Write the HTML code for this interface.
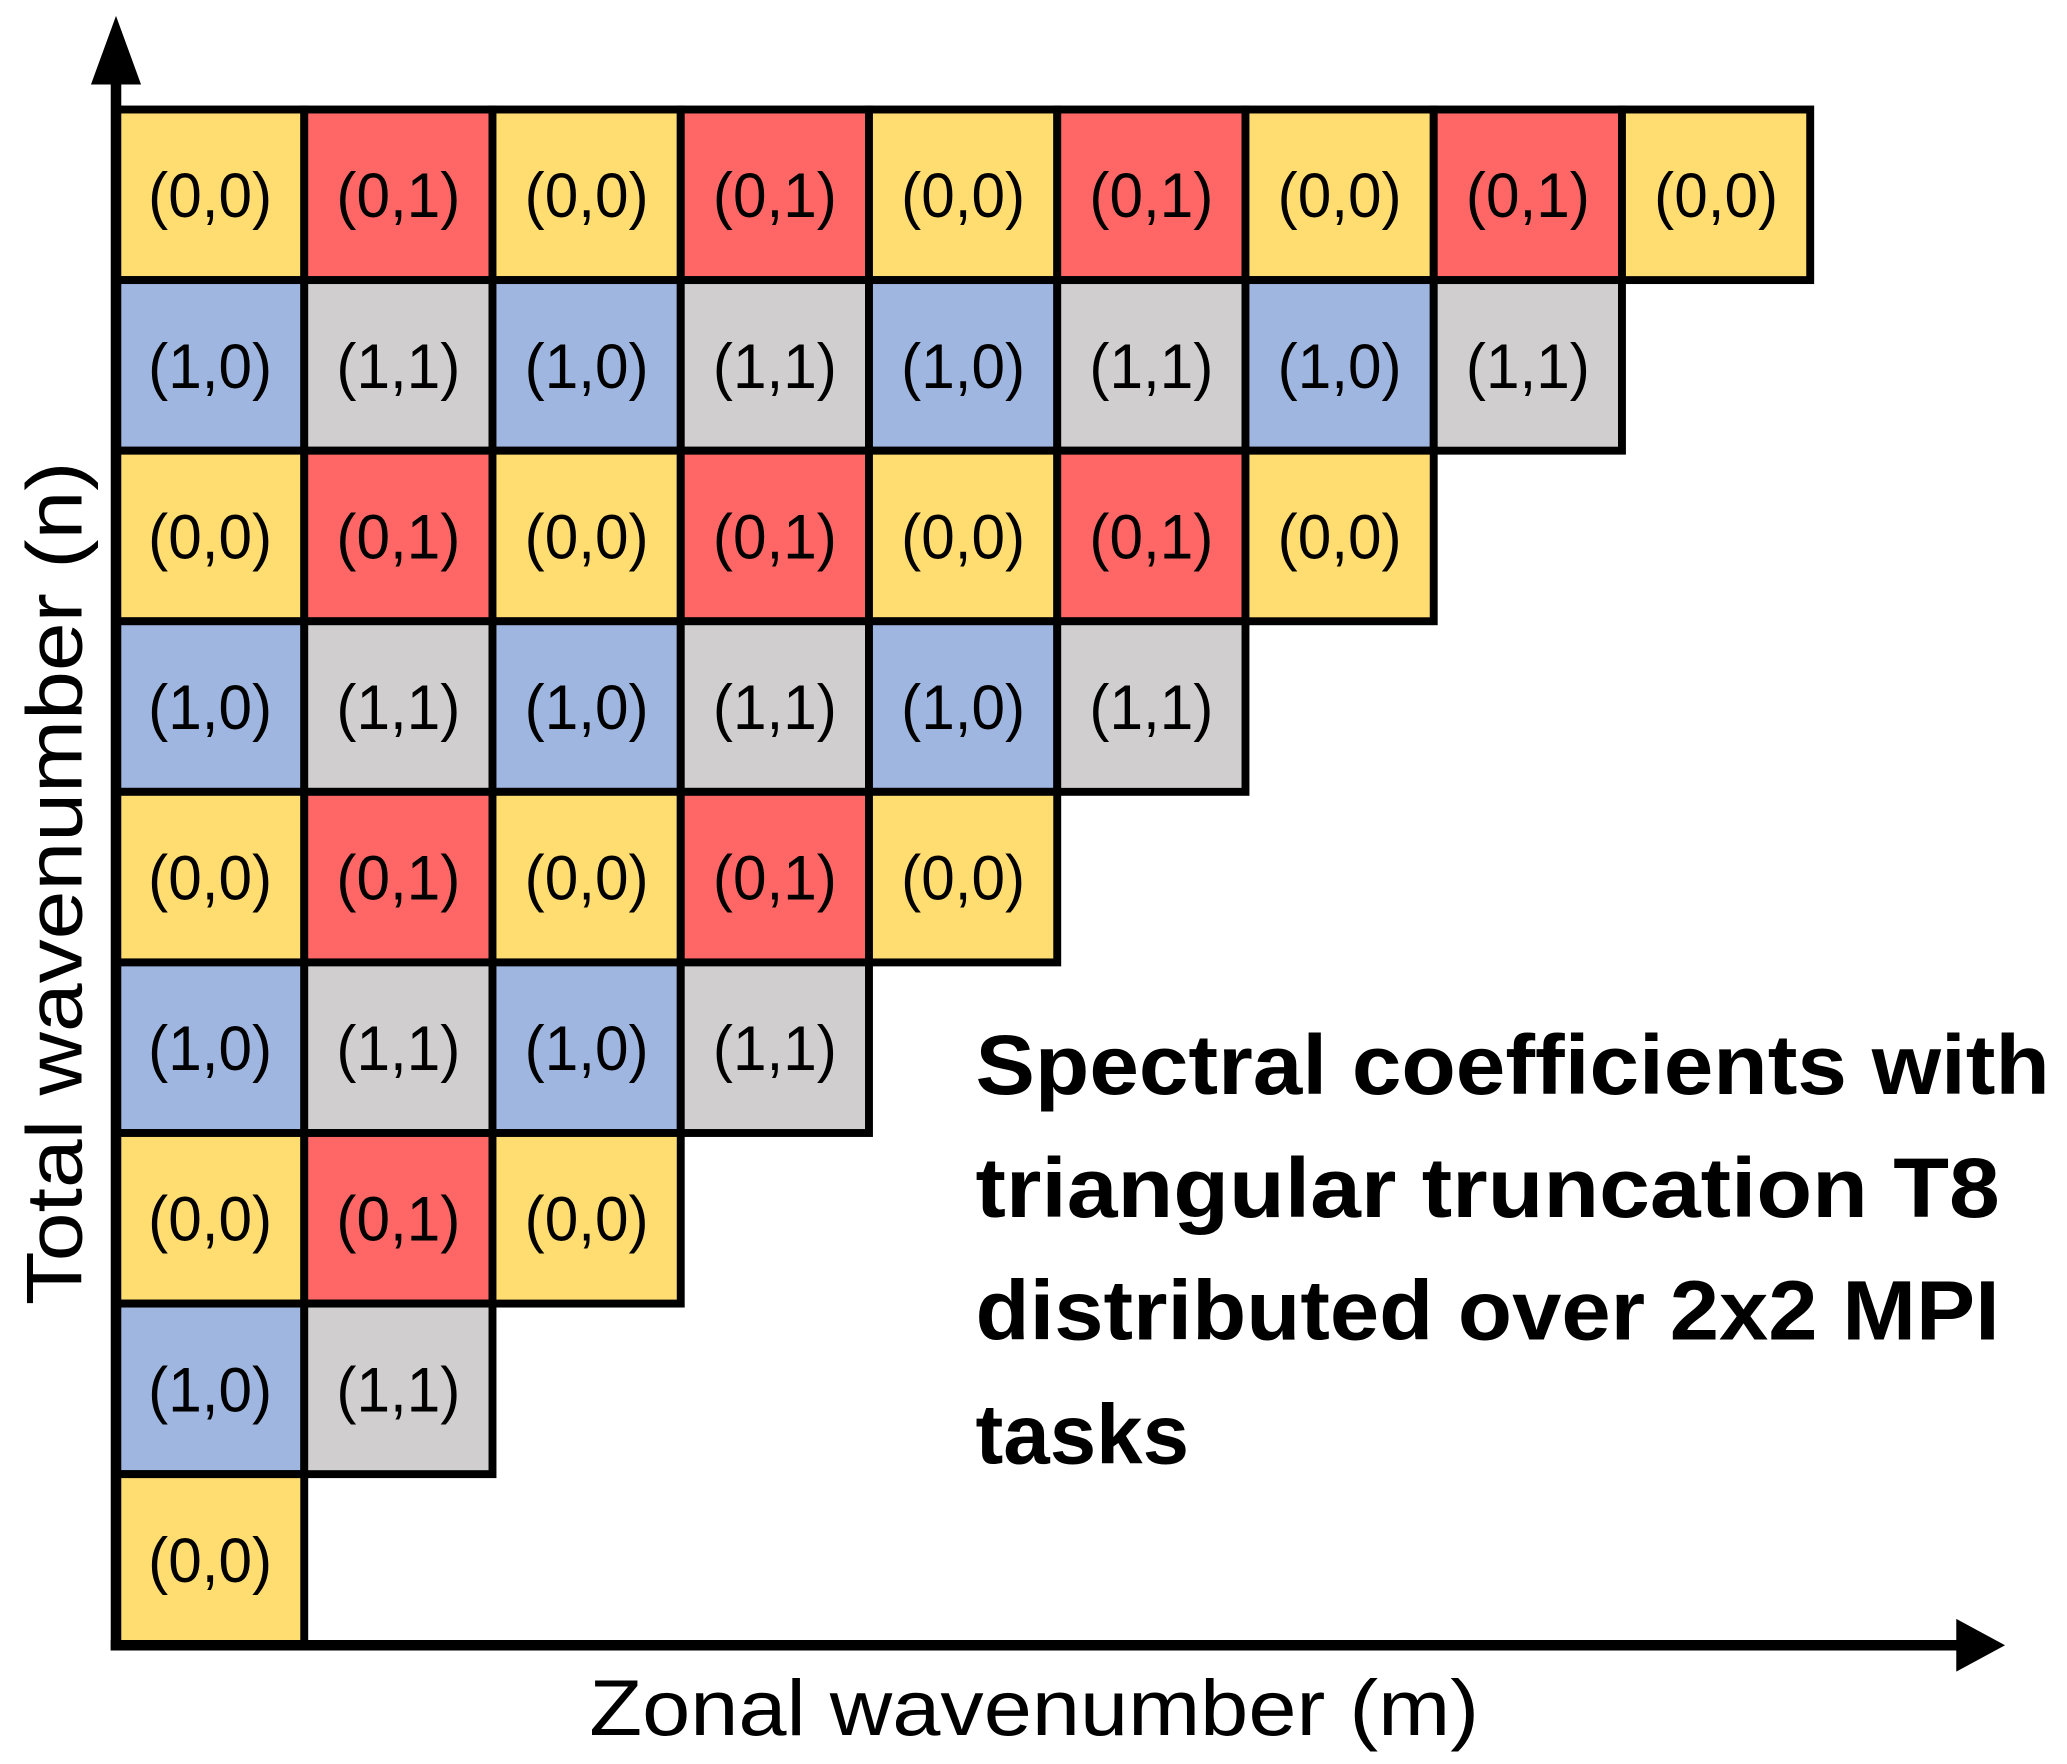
<!DOCTYPE html>
<html><head><meta charset="utf-8"><style>
html,body{margin:0;padding:0;background:#fff;}
svg{display:block;}
text{font-family:"Liberation Sans",sans-serif;}
</style></head><body>
<svg id="chart" width="2067" height="1764" viewBox="0 0 1568 1338" xmlns="http://www.w3.org/2000/svg">
<g id="cells"></g>
<line x1="88" y1="1252" x2="88" y2="55" stroke="#000" stroke-width="8"/>
<polygon points="88,12 69,64 107,64" fill="#000"/>
<line x1="84" y1="1248" x2="1488" y2="1248" stroke="#000" stroke-width="8"/>
<polygon points="1521,1248 1484,1228 1484,1268" fill="#000"/>
<text x="447" y="1316" font-size="60" textLength="675" lengthAdjust="spacingAndGlyphs">Zonal wavenumber (m)</text>
<text transform="translate(62,990) rotate(-90)" font-size="60" textLength="640" lengthAdjust="spacingAndGlyphs">Total wavenumber (n)</text>
<g font-weight="bold" font-size="64">
<text x="740" y="830" textLength="815" lengthAdjust="spacingAndGlyphs">Spectral coefficients with</text>
<text x="740" y="923" textLength="777" lengthAdjust="spacingAndGlyphs">triangular truncation T8</text>
<text x="740" y="1016" textLength="777" lengthAdjust="spacingAndGlyphs">distributed over 2x2 MPI</text>
<text x="740" y="1110" textLength="162" lengthAdjust="spacingAndGlyphs">tasks</text>
</g>
</svg>
<script>
// Number of zonal coefficients per total-wavenumber row (top row = n=8 ... bottom n=0)
const rowLengths = [9, 8, 7, 6, 5, 4, 3, 2, 1];
// MPI task row index for each grid row (top to bottom)
const rowTask = [0, 1, 0, 1, 0, 1, 0, 1, 0];
// MPI task column index pattern along m
const colTask = [0, 1, 0, 1, 0, 1, 0, 1, 0];
const taskColors = {"0,0":"#FFDD71","0,1":"#FF6666","1,0":"#9FB6E0","1,1":"#D0CECE"};

const x0 = 88, cw = 142.8, y0 = 83, ch = 129.4;
const xs = i => x0 + i * cw;
const ys = j => y0 + j * ch;
const g = document.getElementById('cells');
const NS = 'http://www.w3.org/2000/svg';
rowLengths.forEach((len, r) => {
  for (let c = 0; c < len; c++) {
    const key = rowTask[r] + ',' + colTask[c];
    const rect = document.createElementNS(NS, 'rect');
    rect.setAttribute('x', xs(c));
    rect.setAttribute('y', ys(r));
    rect.setAttribute('width', cw);
    rect.setAttribute('height', ch);
    rect.setAttribute('fill', taskColors[key]);
    rect.setAttribute('stroke', '#000');
    rect.setAttribute('stroke-width', '6');
    
    
    g.appendChild(rect);
    const t = document.createElementNS(NS, 'text');
    t.setAttribute('x', xs(c) + cw / 2);
    t.setAttribute('y', ys(r) + ch / 2 + 17);
    t.setAttribute('text-anchor', 'middle');
    t.setAttribute('font-size', '48');
    t.setAttribute('textLength', '94');
    t.setAttribute('lengthAdjust', 'spacingAndGlyphs');
    t.textContent = '(' + key + ')';
    
    
    g.appendChild(t);
  }
});
</script>
</body></html>
